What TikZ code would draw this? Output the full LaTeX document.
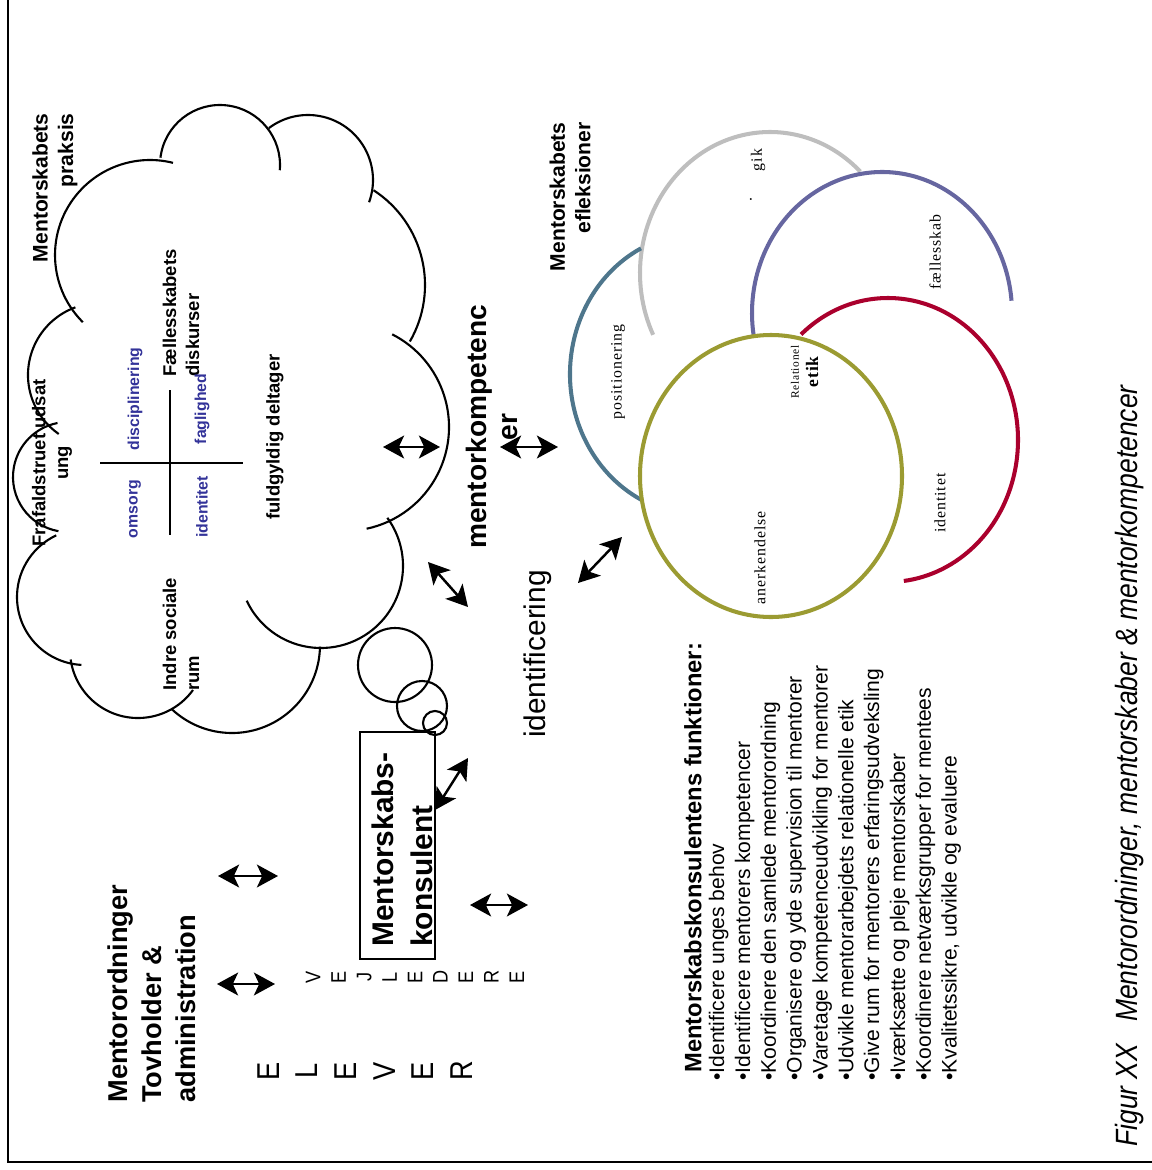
\documentclass[tikz,border=0pt]{standalone}
\usepackage{fontspec}
\setmainfont{Liberation Sans}
\newfontfamily\ringfont[LetterSpace=6]{Liberation Serif}
\newfontfamily\capfont[FakeStretch=0.86]{Liberation Sans}
\usetikzlibrary{arrows.meta}
\definecolor{quadblue}{RGB}{51,51,153}
\definecolor{ringblue}{RGB}{78,118,140}
\definecolor{ringgray}{RGB}{190,190,190}
\definecolor{ringpurple}{RGB}{102,102,160}
\definecolor{ringred}{RGB}{170,0,45}
\definecolor{ringolive}{RGB}{155,155,50}

\begin{document}
\begin{tikzpicture}[x=0.02cm,y=0.02cm,
    cloud/.style={line width=1.2pt},
    ring/.style={line width=2.3pt},
    dbl/.style={{Stealth[length=12pt,width=13pt,inset=3pt]}-{Stealth[length=12pt,width=13pt,inset=3pt]},line width=1.4pt},
    lbl/.style={rotate=90,inner sep=0pt},
    cloudtxt/.style={lbl,font=\bfseries\fontsize{10.5}{13}\selectfont},
    quadtxt/.style={lbl,text=quadblue,font=\bfseries\fontsize{9}{11}\selectfont},
    ringtxt/.style={lbl,font=\ringfont\fontsize{9}{11}\selectfont}]
    \useasboundingbox (0,0) rectangle (1152,-1170);
    %frame
    \draw [line width=1.1pt] (8,0) -- (8,-1162) -- (1152,-1162);

    %cloud
    \draw [cloud] (150,-255) ++(225:95) arc[start angle=225,end angle=76,radius=95];
    \draw [cloud] (220,-165) ++(173:60) arc[start angle=173,end angle=-5,radius=60];
    \draw [cloud] (308,-180) ++(127:65) arc[start angle=127,end angle=-20,radius=65];
    \draw [cloud] (312,-285) ++(57:113) arc[start angle=57,end angle=-30,radius=113];
    \draw [cloud] (345,-427) ++(63:104) arc[start angle=63,end angle=-78,radius=104];
    \draw [cloud] (321,-566) ++(36:82) arc[start angle=36,end angle=-155,radius=82];
    \draw [cloud] (232,-645) ++(-1:88) arc[start angle=-1,end angle=-133,radius=88];
    \draw [cloud] (138,-650) ++(-36:68) arc[start angle=-36,end angle=-172,radius=68];
    \draw [cloud] (85,-597) ++(-93:68) arc[start angle=-93,end angle=-245,radius=68];
    \draw [cloud] (68,-477) ++(-100:55) arc[start angle=-100,end angle=-259,radius=55];
    \draw [cloud] (100,-375) ++(110:72) arc[start angle=110,end angle=235,radius=72];

    %cross
    \draw [line width=1.6pt] (100,-463) -- (243,-463) (170,-390) -- (170,-535);

    %cloudlabels
    \node[lbl,anchor=east,align=right,font=\bfseries\fontsize{12}{14.5}\selectfont] (praksis) at (55,-113) {Mentorskabets\\praksis};
    \node[cloudtxt,anchor=west,align=left] (faelles) at (181,-377) {Fællesskabets\\diskurser};
    \node[cloudtxt,align=center] (frafald) at (52,-463) {Frafaldstruet udsat\\ung};
    \node[cloudtxt,anchor=west,align=left] (indre) at (181,-691) {Indre sociale\\rum};
    \node[cloudtxt] (fuld) at (275,-437) {fuldgyldig deltager};
    \node[quadtxt] (discip) at (135,-399) {disciplinering};
    \node[quadtxt] (fagl) at (202,-409) {faglighed};
    \node[quadtxt] (omsorg) at (135,-509) {omsorg};
    \node[quadtxt] (ident) at (202,-507) {identitet};

    %thoughtbubbles
    \draw [cloud] (395,-665) circle[radius=37];
    \draw [cloud] (422,-706) circle[radius=25];
    \draw [cloud] (435,-723) circle[radius=12];

    %middle
    \node[lbl,align=center,font=\bfseries\fontsize{16}{17.6}\selectfont] (mkomp) at (492,-427) {mentorkompetenc\\er};
    \node[lbl,font=\fontsize{17}{20}\selectfont] (identif) at (538,-654) {identificering};

    %left
    \node[lbl,anchor=west,align=left,font=\bfseries\fontsize{15.5}{19.5}\selectfont] (tovh) at (152,-1103) {Mentorordninger\\Tovholder \&\\administration};
    \node[lbl,align=center,font=\capfont\fontsize{18}{22}\selectfont] (elever) at (365,-1071) {E\\L\\E\\V\\E\\R};
    \node[lbl,align=center,font=\capfont\fontsize{12}{14.5}\selectfont] (vejl) at (415,-977) {V\\E\\J\\L\\E\\D\\E\\R\\E};
    \draw [line width=1.3pt] (360,-732) rectangle (435,-959);
    \node[lbl,anchor=west,align=left,font=\bfseries\fontsize{17}{22}\selectfont] (konsul) at (402,-947) {Mentorskabs-\\konsulent};

    %arrows
    \coordinate (a1s) at (383,-447); \coordinate (a1e) at (440,-447);
    \coordinate (a2s) at (500,-447); \coordinate (a2e) at (558,-447);
    \coordinate (a3s) at (428,-562); \coordinate (a3e) at (468,-607);
    \coordinate (a4s) at (578,-583); \coordinate (a4e) at (622,-537);
    \coordinate (a5s) at (435,-810); \coordinate (a5e) at (468,-758);
    \coordinate (a6s) at (218,-876); \coordinate (a6e) at (278,-876);
    \coordinate (a7s) at (217,-984); \coordinate (a7e) at (275,-984);
    \coordinate (a8s) at (470,-905); \coordinate (a8e) at (528,-905);
    \draw [dbl] (a1s) -- (a1e);
    \draw [dbl] (a2s) -- (a2e);
    \draw [dbl] (a3s) -- (a3e);
    \draw [dbl] (a4s) -- (a4e);
    \draw [dbl] (a5s) -- (a5e);
    \draw [dbl] (a6s) -- (a6e);
    \draw [dbl] (a7s) -- (a7e);
    \draw [dbl] (a8s) -- (a8e);

    %rings
    \node[lbl,anchor=east,align=right,font=\bfseries\fontsize{12}{14.5}\selectfont] (refl) at (570,-122) {Mentorskabets\\efleksioner};
    \draw [ring,ringgray] (770,-273) ++(46:130 and 141) arc[start angle=46,end angle=206,x radius=130,y radius=141];
    \draw [ring,ringblue] (700,-374) ++(117:130 and 141) arc[start angle=117,end angle=243,x radius=130,y radius=141];
    \draw [ring,ringpurple] (882,-313) ++(5:130 and 141) arc[start angle=5,end angle=189,x radius=130,y radius=141];
    \draw [ring,ringred] (888,-440) ++(132:130 and 142) arc[start angle=132,end angle=-83,x radius=130,y radius=142];
    \draw [ring,ringolive] (771,-476) ellipse[x radius=131,y radius=141];

    \node[ringtxt] (lgik) at (758,-160) {gik};
    \node[ringtxt] (ldot) at (751,-200) {.};
    \node[ringtxt] (lfaell) at (935,-252) {fællesskab};
    \node[ringtxt] (lpos) at (618,-372) {positionering};
    \node[lbl,font=\ringfont\fontsize{6.5}{8}\selectfont] (lrel) at (795,-372) {Relationel};
    \node[lbl,font=\ringfont\bfseries\fontsize{10}{12}\selectfont] (letik) at (812,-372) {etik};
    \node[ringtxt] (lident) at (940,-503) {identitet};
    \node[ringtxt] (lanerk) at (760,-558) {anerkendelse};

    %functions
    \node[lbl,anchor=west,font=\bfseries\fontsize{13.5}{16}\selectfont] (funk) at (693,-1073) {Mentorskabskonsulentens funktioner:};
    \node[lbl,anchor=west,align=left,font=\fontsize{12}{14.7}\selectfont] (funklist) at (835,-1081) {•Identificere unges behov\\
      •Identificere mentorers kompetencer\\
      •Koordinere den samlede mentorordning\\
      •Organisere og yde supervision til mentorer\\
      •Varetage kompetenceudvikling for mentorer\\
      •Udvikle mentorarbejdets relationelle etik\\
      •Give rum for mentorers erfaringsudveksling\\
      •Iværksætte og pleje mentorskaber\\
      •Koordinere netværksgrupper for mentees\\
      •Kvalitetssikre, udvikle og evaluere};

    %caption
    \node[lbl,font=\capfont\itshape\fontsize{17.5}{20}\selectfont] (caption) at (1130,-766) {Figur XX\ \ \ Mentorordninger, mentorskaber \& mentorkompetencer};
\end{tikzpicture}
\end{document}
